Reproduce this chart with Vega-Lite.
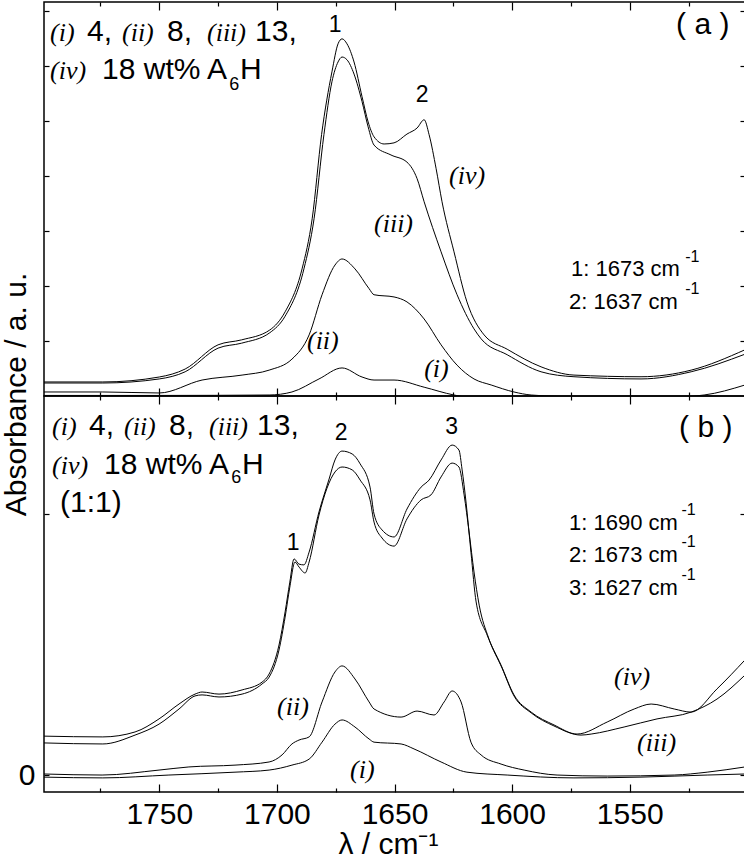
{
  "$schema": "https://vega.github.io/schema/vega-lite/v6.json",
  "background": "white",
  "padding": {"left": 0, "top": 0, "right": 0, "bottom": 0},
  "spacing": 0,
  "bounds": "flush",
  "config": {
    "view": {"stroke": "black", "strokeWidth": 1.5},
    "axis": {"grid": false, "domain": false, "tickColor": "black", "tickWidth": 1.2, "labelColor": "black", "titleColor": "black", "labelFont": "Liberation Sans", "titleFont": "Liberation Sans", "labelFontSize": 30, "titleFontSize": 30, "titleFontWeight": "normal"},
    "text": {"color": "black"}
  },
  "datasets": {
    "lineA": [
      {"s":"iv","x":1799,"y":0.255},{"s":"iv","x":1774,"y":0.255},{"s":"iv","x":1750,"y":0.345},{"s":"iv","x":1739,"y":0.49},{"s":"iv","x":1725,"y":0.93},{"s":"iv","x":1715,"y":1.02},{"s":"iv","x":1703,"y":1.2},{"s":"iv","x":1696.5,"y":1.53},{"s":"iv","x":1689.3,"y":2.31},{"s":"iv","x":1685,"y":3.22},{"s":"iv","x":1681,"y":4.75},{"s":"iv","x":1676.6,"y":5.89},{"s":"iv","x":1674,"y":6.4},{"s":"iv","x":1672.3,"y":6.49},{"s":"iv","x":1670.2,"y":6.4},{"s":"iv","x":1667.2,"y":6.07},{"s":"iv","x":1663.8,"y":5.44},{"s":"iv","x":1661.2,"y":4.98},{"s":"iv","x":1658.7,"y":4.71},{"s":"iv","x":1654.4,"y":4.58},{"s":"iv","x":1650.2,"y":4.6},{"s":"iv","x":1644.7,"y":4.76},{"s":"iv","x":1640.4,"y":4.87},{"s":"iv","x":1637.4,"y":5.02},{"s":"iv","x":1635.3,"y":4.75},{"s":"iv","x":1632.3,"y":4.13},{"s":"iv","x":1629.8,"y":3.53},{"s":"iv","x":1624.7,"y":2.62},{"s":"iv","x":1619.2,"y":1.71},{"s":"iv","x":1611.9,"y":1.11},{"s":"iv","x":1602.1,"y":0.85},{"s":"iv","x":1587.7,"y":0.53},{"s":"iv","x":1573.7,"y":0.38},{"s":"iv","x":1545.2,"y":0.35},{"s":"iv","x":1523.9,"y":0.47},{"s":"iv","x":1501,"y":0.84},
      {"s":"iii","x":1799,"y":0.236},{"s":"iii","x":1774,"y":0.236},{"s":"iii","x":1750,"y":0.31},{"s":"iii","x":1739,"y":0.44},{"s":"iii","x":1725,"y":0.87},{"s":"iii","x":1715,"y":0.96},{"s":"iii","x":1703,"y":1.15},{"s":"iii","x":1696.5,"y":1.45},{"s":"iii","x":1688.5,"y":2.31},{"s":"iii","x":1684.2,"y":3.22},{"s":"iii","x":1680,"y":4.75},{"s":"iii","x":1676.6,"y":5.71},{"s":"iii","x":1674,"y":6.07},{"s":"iii","x":1672.3,"y":6.16},{"s":"iii","x":1670.2,"y":6.11},{"s":"iii","x":1667.2,"y":5.85},{"s":"iii","x":1663.8,"y":5.35},{"s":"iii","x":1661.2,"y":4.89},{"s":"iii","x":1658.7,"y":4.56},{"s":"iii","x":1651.5,"y":4.38},{"s":"iii","x":1644.7,"y":4.25},{"s":"iii","x":1640.4,"y":3.95},{"s":"iii","x":1637.4,"y":3.53},{"s":"iii","x":1630.2,"y":2.62},{"s":"iii","x":1623.4,"y":1.84},{"s":"iii","x":1616.2,"y":1.22},{"s":"iii","x":1613.2,"y":1.04},{"s":"iii","x":1602.1,"y":0.75},{"s":"iii","x":1587.7,"y":0.44},{"s":"iii","x":1573.7,"y":0.35},{"s":"iii","x":1545.2,"y":0.31},{"s":"iii","x":1523.9,"y":0.44},{"s":"iii","x":1501,"y":0.76},
      {"s":"ii","x":1799,"y":0.073},{"s":"ii","x":1774,"y":0.073},{"s":"ii","x":1750,"y":0.055},{"s":"ii","x":1731.8,"y":0.29},{"s":"ii","x":1714.8,"y":0.38},{"s":"ii","x":1703.3,"y":0.47},{"s":"ii","x":1693.6,"y":0.67},{"s":"ii","x":1686.3,"y":1.11},{"s":"ii","x":1680.8,"y":1.84},{"s":"ii","x":1675.3,"y":2.38},{"s":"ii","x":1672.3,"y":2.49},{"s":"ii","x":1666.8,"y":2.31},{"s":"ii","x":1660.8,"y":1.95},{"s":"ii","x":1658.7,"y":1.84},{"s":"ii","x":1650.2,"y":1.8},{"s":"ii","x":1644.7,"y":1.71},{"s":"ii","x":1637.4,"y":1.4},{"s":"ii","x":1630.2,"y":0.93},{"s":"ii","x":1623.4,"y":0.56},{"s":"ii","x":1616.2,"y":0.31},{"s":"ii","x":1608.9,"y":0.2},{"s":"ii","x":1599.2,"y":0.073},{"s":"ii","x":1591.9,"y":0.018},{"s":"ii","x":1570,"y":-0.02},{"s":"ii","x":1540,"y":-0.04},{"s":"ii","x":1518.4,"y":0.018},{"s":"ii","x":1501,"y":0.2},
      {"s":"i","x":1799,"y":0.01},{"s":"i","x":1750,"y":0.01},{"s":"i","x":1703.3,"y":0.018},{"s":"i","x":1693.6,"y":0.073},{"s":"i","x":1682.1,"y":0.31},{"s":"i","x":1672.3,"y":0.51},{"s":"i","x":1663.8,"y":0.345},{"s":"i","x":1658.7,"y":0.29},{"s":"i","x":1650.2,"y":0.29},{"s":"i","x":1637.4,"y":0.16},{"s":"i","x":1624.7,"y":0.018},{"s":"i","x":1615,"y":-0.04},{"s":"i","x":1550,"y":-0.07},{"s":"i","x":1501,"y":-0.04}
    ],
    "lineB": [
      {"s":"iv","x":1799,"y":0.149},{"s":"iv","x":1774,"y":0.146},{"s":"iv","x":1760.3,"y":0.165},{"s":"iv","x":1750.1,"y":0.215},{"s":"iv","x":1741.6,"y":0.272},{"s":"iv","x":1734.8,"y":0.31},{"s":"iv","x":1731.8,"y":0.318},{"s":"iv","x":1724.6,"y":0.31},{"s":"iv","x":1714.8,"y":0.326},{"s":"iv","x":1706.3,"y":0.356},{"s":"iv","x":1703.3,"y":0.387},{"s":"iv","x":1699.1,"y":0.498},{"s":"iv","x":1696.5,"y":0.625},{"s":"iv","x":1694.5,"y":0.739},{"s":"iv","x":1692.7,"y":0.828},{"s":"iv","x":1690.6,"y":0.808},{"s":"iv","x":1688.5,"y":0.805},{"s":"iv","x":1686.3,"y":0.854},{"s":"iv","x":1682.1,"y":1.008},{"s":"iv","x":1677.8,"y":1.134},{"s":"iv","x":1675.3,"y":1.207},{"s":"iv","x":1672.3,"y":1.241},{"s":"iv","x":1668,"y":1.23},{"s":"iv","x":1664.6,"y":1.192},{"s":"iv","x":1660.4,"y":1.103},{"s":"iv","x":1658.7,"y":1.0},{"s":"iv","x":1655.3,"y":0.939},{"s":"iv","x":1650.2,"y":0.912},{"s":"iv","x":1644.7,"y":1.019},{"s":"iv","x":1638.7,"y":1.103},{"s":"iv","x":1635.3,"y":1.13},{"s":"iv","x":1630.2,"y":1.207},{"s":"iv","x":1625.5,"y":1.264},{"s":"iv","x":1622.6,"y":1.245},{"s":"iv","x":1621.3,"y":1.172},{"s":"iv","x":1619.6,"y":1.046},{"s":"iv","x":1617.5,"y":0.854},{"s":"iv","x":1615.3,"y":0.663},{"s":"iv","x":1610.6,"y":0.536},{"s":"iv","x":1604.7,"y":0.421},{"s":"iv","x":1599.2,"y":0.307},{"s":"iv","x":1591.9,"y":0.241},{"s":"iv","x":1582.2,"y":0.192},{"s":"iv","x":1572.4,"y":0.157},{"s":"iv","x":1559.6,"y":0.203},{"s":"iv","x":1548.1,"y":0.253},{"s":"iv","x":1540.9,"y":0.272},{"s":"iv","x":1531.1,"y":0.253},{"s":"iv","x":1523.9,"y":0.241},{"s":"iv","x":1512.9,"y":0.33},{"s":"iv","x":1501,"y":0.441},
      {"s":"iii","x":1799,"y":0.123},{"s":"iii","x":1774,"y":0.119},{"s":"iii","x":1760.3,"y":0.153},{"s":"iii","x":1750.1,"y":0.195},{"s":"iii","x":1741.6,"y":0.253},{"s":"iii","x":1734.8,"y":0.303},{"s":"iii","x":1731.8,"y":0.307},{"s":"iii","x":1724.6,"y":0.299},{"s":"iii","x":1714.8,"y":0.31},{"s":"iii","x":1706.3,"y":0.349},{"s":"iii","x":1703.3,"y":0.375},{"s":"iii","x":1699.1,"y":0.479},{"s":"iii","x":1696.5,"y":0.605},{"s":"iii","x":1694.5,"y":0.72},{"s":"iii","x":1692.3,"y":0.816},{"s":"iii","x":1690.6,"y":0.797},{"s":"iii","x":1688,"y":0.774},{"s":"iii","x":1686.3,"y":0.816},{"s":"iii","x":1682.1,"y":0.996},{"s":"iii","x":1675.3,"y":1.161},{"s":"iii","x":1672.3,"y":1.18},{"s":"iii","x":1668,"y":1.169},{"s":"iii","x":1664.6,"y":1.13},{"s":"iii","x":1660.4,"y":1.054},{"s":"iii","x":1658.7,"y":0.969},{"s":"iii","x":1655.3,"y":0.908},{"s":"iii","x":1650.2,"y":0.877},{"s":"iii","x":1644.7,"y":0.981},{"s":"iii","x":1638.7,"y":1.054},{"s":"iii","x":1634.5,"y":1.073},{"s":"iii","x":1630.2,"y":1.142},{"s":"iii","x":1625.5,"y":1.195},{"s":"iii","x":1622.6,"y":1.18},{"s":"iii","x":1620.4,"y":1.073},{"s":"iii","x":1618.3,"y":0.931},{"s":"iii","x":1616.2,"y":0.778},{"s":"iii","x":1614,"y":0.651},{"s":"iii","x":1610,"y":0.525},{"s":"iii","x":1604.3,"y":0.41},{"s":"iii","x":1599.2,"y":0.303},{"s":"iii","x":1591.9,"y":0.238},{"s":"iii","x":1582.2,"y":0.188},{"s":"iii","x":1570.7,"y":0.153},{"s":"iii","x":1566.4,"y":0.157},{"s":"iii","x":1552.4,"y":0.184},{"s":"iii","x":1538.4,"y":0.215},{"s":"iii","x":1523.9,"y":0.241},{"s":"iii","x":1512.9,"y":0.291},{"s":"iii","x":1501,"y":0.383},
      {"s":"ii","x":1799,"y":0.004},{"s":"ii","x":1774.3,"y":0.0},{"s":"ii","x":1750.1,"y":0.019},{"s":"ii","x":1737.4,"y":0.031},{"s":"ii","x":1717.8,"y":0.038},{"s":"ii","x":1703.3,"y":0.05},{"s":"ii","x":1697.8,"y":0.077},{"s":"ii","x":1693.6,"y":0.119},{"s":"ii","x":1690.6,"y":0.134},{"s":"ii","x":1686.3,"y":0.146},{"s":"ii","x":1680.8,"y":0.28},{"s":"ii","x":1675.3,"y":0.395},{"s":"ii","x":1672.3,"y":0.418},{"s":"ii","x":1666.8,"y":0.368},{"s":"ii","x":1660.8,"y":0.28},{"s":"ii","x":1658.7,"y":0.253},{"s":"ii","x":1647.2,"y":0.222},{"s":"ii","x":1640.4,"y":0.245},{"s":"ii","x":1633.2,"y":0.23},{"s":"ii","x":1628.9,"y":0.28},{"s":"ii","x":1625.5,"y":0.322},{"s":"ii","x":1621.7,"y":0.28},{"s":"ii","x":1617.5,"y":0.126},{"s":"ii","x":1613.2,"y":0.077},{"s":"ii","x":1604.7,"y":0.042},{"s":"ii","x":1594.9,"y":0.019},{"s":"ii","x":1580.9,"y":0.0},{"s":"ii","x":1559.6,"y":-0.004},{"s":"ii","x":1531.1,"y":0.0},{"s":"ii","x":1517.1,"y":0.011},{"s":"ii","x":1501,"y":0.031},
      {"s":"i","x":1799,"y":-0.008},{"s":"i","x":1774,"y":-0.011},{"s":"i","x":1745.9,"y":0.0},{"s":"i","x":1717.8,"y":0.011},{"s":"i","x":1703.3,"y":0.019},{"s":"i","x":1693.6,"y":0.038},{"s":"i","x":1686.3,"y":0.061},{"s":"i","x":1680.8,"y":0.126},{"s":"i","x":1675.3,"y":0.195},{"s":"i","x":1672.3,"y":0.211},{"s":"i","x":1666.8,"y":0.184},{"s":"i","x":1660.8,"y":0.138},{"s":"i","x":1658.7,"y":0.126},{"s":"i","x":1647.2,"y":0.119},{"s":"i","x":1641.7,"y":0.1},{"s":"i","x":1630.2,"y":0.05},{"s":"i","x":1619.2,"y":0.011},{"s":"i","x":1602.1,"y":0.0},{"s":"i","x":1573.7,"y":-0.011},{"s":"i","x":1545.2,"y":-0.008},{"s":"i","x":1517.1,"y":0.0},{"s":"i","x":1501,"y":0.004}
    ],
    "aRoman": [{"x":1796.45,"y":6.4545,"t":"(i)"},{"x":1765.84,"y":6.4545,"t":"(ii)"},{"x":1729.7,"y":6.4545,"t":"(iii)"},{"x":1796.45,"y":5.7636,"t":"(iv)"},{"x":1626.8,"y":3.855,"t":"(iv)"},{"x":1658.7,"y":2.98,"t":"(iii)"},{"x":1687.2,"y":0.855,"t":"(ii)"},{"x":1637.4,"y":0.345,"t":"(i)"}],
    "aSans": [{"x":1780.72,"y":6.4545,"t":"4,"},{"x":1746.7,"y":6.4545,"t":"8,"},{"x":1709.29,"y":6.4545,"t":"13,"},{"x":1774.34,"y":5.7636,"t":"18 wt% A"},{"x":1715.7,"y":5.7636,"t":"H"},{"x":1530.29,"y":6.58,"t":"( a )"}],
    "aPeak": [{"x":1675.28,"y":6.618,"t":"1"},{"x":1638.29,"y":5.345,"t":"2"}],
    "aLeg": [{"x":1574.94,"y":2.18,"t":"1: 1673 cm"},{"x":1575.79,"y":1.582,"t":"2: 1637 cm"}],
    "aSup": [{"x":1526.4,"y":2.436,"t":"-1"},{"x":1526.4,"y":1.855,"t":"-1"}],
    "aSub": [{"x":1720.3,"y":5.5636,"t":"6"}],
    "bRoman": [{"x":1795.6,"y":1.3027,"t":"(i)"},{"x":1764.99,"y":1.3027,"t":"(ii)"},{"x":1728.85,"y":1.3027,"t":"(iii)"},{"x":1795.6,"y":1.1533,"t":"(iv)"},{"x":1556.65,"y":0.345,"t":"(iv)"},{"x":1546.87,"y":0.092,"t":"(iii)"},{"x":1699.94,"y":0.2299,"t":"(ii)"},{"x":1668.9,"y":-0.0115,"t":"(i)"}],
    "bSans": [{"x":1779.87,"y":1.3027,"t":"4,"},{"x":1745.85,"y":1.3027,"t":"8,"},{"x":1708.44,"y":1.3027,"t":"13,"},{"x":1773.49,"y":1.1533,"t":"18 wt% A"},{"x":1714.85,"y":1.1533,"t":"H"},{"x":1792.2,"y":1.0077,"t":"(1:1)"},{"x":1529.02,"y":1.295,"t":"( b )"}],
    "bPeak": [{"x":1693.13,"y":0.862,"t":"1"},{"x":1672.72,"y":1.2835,"t":"2"},{"x":1625.74,"y":1.3065,"t":"3"}],
    "bLeg": [{"x":1575.79,"y":0.9387,"t":"1: 1690 cm"},{"x":1575.79,"y":0.8161,"t":"2: 1673 cm"},{"x":1575.79,"y":0.6897,"t":"3: 1627 cm"}],
    "bSup": [{"x":1528.0,"y":0.9962,"t":"-1"},{"x":1528.0,"y":0.8736,"t":"-1"},{"x":1528.0,"y":0.7471,"t":"-1"}],
    "bSub": [{"x":1719.4,"y":1.1188,"t":"6"}]
  },
  "vconcat": [
    {
      "width": 701,
      "height": 394,
      "layer": [
        {
          "data": {"name": "lineA"},
          "mark": {"type": "line", "interpolate": "monotone", "clip": true, "strokeWidth": 1, "color": "black"},
          "encoding": {
            "x": {"field": "x", "type": "quantitative", "scale": {"domain": [1501, 1799], "reverse": true, "nice": false, "zero": false}, "axis": {"orient": "bottom", "values": [1750, 1700, 1650, 1600, 1550], "labels": false, "title": null, "tickSize": -8}},
            "y": {"field": "y", "type": "quantitative", "scale": {"domain": [0, 7.16], "nice": false, "zero": false}, "axis": {"orient": "left", "values": [1, 2, 3, 4, 5, 6, 7], "labels": false, "tickSize": -5, "title": "Absorbance / a. u.", "titleX": -19, "titleY": 392, "titleAngle": 270, "titleBaseline": "alphabetic", "titleAlign": "center"}},
            "detail": {"field": "s"},
            "order": {"field": "x", "sort": "descending"}
          }
        },
        {
          "data": {"name": "aRoman"},
          "mark": {"type": "text", "font": "Liberation Serif", "fontStyle": "italic", "fontSize": 26, "align": "left", "baseline": "alphabetic"},
          "encoding": {
            "x": {"field": "x", "type": "quantitative", "axis": {"orient": "top", "values": [1750, 1700, 1650, 1600, 1550], "labels": false, "title": null, "tickSize": -8}},
            "y": {"field": "y", "type": "quantitative", "axis": {"orient": "right", "values": [1, 2, 3, 4, 5, 6, 7], "labels": false, "title": null, "tickSize": -5}},
            "text": {"field": "t"}
          }
        },
        {
          "data": {"name": "aSans"},
          "mark": {"type": "text", "font": "Liberation Sans", "fontSize": 30, "align": "left", "baseline": "alphabetic"},
          "encoding": {
            "x": {"field": "x", "type": "quantitative", "axis": {"orient": "bottom", "values": [1775, 1725, 1675, 1625, 1575, 1525], "labels": false, "title": null, "tickSize": -4}},
            "y": {"field": "y", "type": "quantitative", "axis": null},
            "text": {"field": "t"}
          }
        },
        {
          "data": {"name": "aPeak"},
          "mark": {"type": "text", "font": "Liberation Sans", "fontSize": 23, "align": "center", "baseline": "alphabetic"},
          "encoding": {
            "x": {"field": "x", "type": "quantitative", "axis": {"orient": "top", "values": [1775, 1725, 1675, 1625, 1575, 1525], "labels": false, "title": null, "tickSize": -4}},
            "y": {"field": "y", "type": "quantitative", "axis": null},
            "text": {"field": "t"}
          }
        },
        {
          "data": {"name": "aLeg"},
          "mark": {"type": "text", "font": "Liberation Sans", "fontSize": 22, "align": "left", "baseline": "alphabetic"},
          "encoding": {
            "x": {"field": "x", "type": "quantitative", "axis": null},
            "y": {"field": "y", "type": "quantitative", "axis": null},
            "text": {"field": "t"}
          }
        },
        {
          "data": {"name": "aSup"},
          "mark": {"type": "text", "font": "Liberation Sans", "fontSize": 16, "align": "left", "baseline": "alphabetic"},
          "encoding": {
            "x": {"field": "x", "type": "quantitative", "axis": null},
            "y": {"field": "y", "type": "quantitative", "axis": null},
            "text": {"field": "t"}
          }
        },
        {
          "data": {"name": "aSub"},
          "mark": {"type": "text", "font": "Liberation Sans", "fontSize": 18, "align": "left", "baseline": "alphabetic"},
          "encoding": {
            "x": {"field": "x", "type": "quantitative", "axis": null},
            "y": {"field": "y", "type": "quantitative", "axis": null},
            "text": {"field": "t"}
          }
        }
      ],
      "resolve": {"axis": {"x": "independent", "y": "independent"}}
    },
    {
      "width": 701,
      "height": 396,
      "layer": [
        {
          "data": {"name": "lineB"},
          "mark": {"type": "line", "interpolate": "monotone", "clip": true, "strokeWidth": 1, "color": "black"},
          "encoding": {
            "x": {"field": "x", "type": "quantitative", "scale": {"domain": [1501, 1799], "reverse": true, "nice": false, "zero": false}, "axis": {"orient": "bottom", "values": [1750, 1700, 1650, 1600, 1550], "format": "d", "labels": true, "labelPadding": 15, "labelBaseline": "top", "title": "λ / cm⁻¹", "titleBaseline": "alphabetic", "titleY": 61, "titleX": 344, "tickSize": -8}},
            "y": {"field": "y", "type": "quantitative", "scale": {"domain": [-0.065, 1.452], "nice": false, "zero": false}, "axis": {"orient": "left", "values": [0, 1], "labelExpr": "datum.value == 0 ? '0' : ''", "labelPadding": 14, "tickSize": -5, "title": null}},
            "detail": {"field": "s"},
            "order": {"field": "x", "sort": "descending"}
          }
        },
        {
          "data": {"name": "bRoman"},
          "mark": {"type": "text", "font": "Liberation Serif", "fontStyle": "italic", "fontSize": 26, "align": "left", "baseline": "alphabetic"},
          "encoding": {
            "x": {"field": "x", "type": "quantitative", "axis": {"orient": "top", "values": [1750, 1700, 1650, 1600, 1550], "labels": false, "title": null, "tickSize": -8}},
            "y": {"field": "y", "type": "quantitative", "axis": {"orient": "right", "values": [0, 1], "labels": false, "title": null, "tickSize": -5}},
            "text": {"field": "t"}
          }
        },
        {
          "data": {"name": "bSans"},
          "mark": {"type": "text", "font": "Liberation Sans", "fontSize": 30, "align": "left", "baseline": "alphabetic"},
          "encoding": {
            "x": {"field": "x", "type": "quantitative", "axis": {"orient": "bottom", "values": [1775, 1725, 1675, 1625, 1575, 1525], "labels": false, "title": null, "tickSize": -4}},
            "y": {"field": "y", "type": "quantitative", "axis": null},
            "text": {"field": "t"}
          }
        },
        {
          "data": {"name": "bPeak"},
          "mark": {"type": "text", "font": "Liberation Sans", "fontSize": 23, "align": "center", "baseline": "alphabetic"},
          "encoding": {
            "x": {"field": "x", "type": "quantitative", "axis": {"orient": "top", "values": [1775, 1725, 1675, 1625, 1575, 1525], "labels": false, "title": null, "tickSize": -4}},
            "y": {"field": "y", "type": "quantitative", "axis": null},
            "text": {"field": "t"}
          }
        },
        {
          "data": {"name": "bLeg"},
          "mark": {"type": "text", "font": "Liberation Sans", "fontSize": 22, "align": "left", "baseline": "alphabetic"},
          "encoding": {
            "x": {"field": "x", "type": "quantitative", "axis": null},
            "y": {"field": "y", "type": "quantitative", "axis": null},
            "text": {"field": "t"}
          }
        },
        {
          "data": {"name": "bSup"},
          "mark": {"type": "text", "font": "Liberation Sans", "fontSize": 16, "align": "left", "baseline": "alphabetic"},
          "encoding": {
            "x": {"field": "x", "type": "quantitative", "axis": null},
            "y": {"field": "y", "type": "quantitative", "axis": null},
            "text": {"field": "t"}
          }
        },
        {
          "data": {"name": "bSub"},
          "mark": {"type": "text", "font": "Liberation Sans", "fontSize": 18, "align": "left", "baseline": "alphabetic"},
          "encoding": {
            "x": {"field": "x", "type": "quantitative", "axis": null},
            "y": {"field": "y", "type": "quantitative", "axis": null},
            "text": {"field": "t"}
          }
        }
      ],
      "resolve": {"axis": {"x": "independent", "y": "independent"}}
    }
  ],
  "resolve": {"scale": {"y": "independent"}}
}
